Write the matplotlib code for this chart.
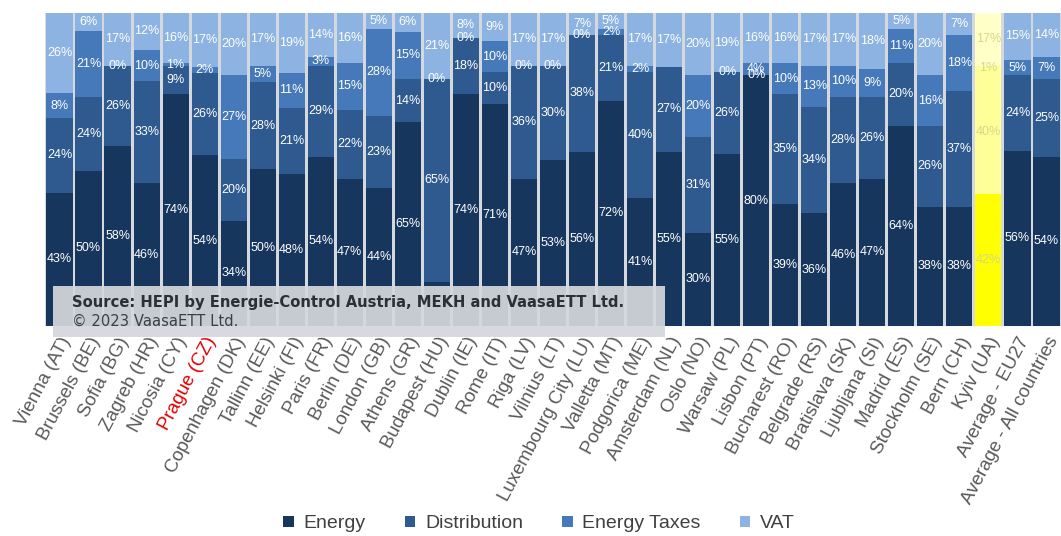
import numpy as np
import matplotlib.pyplot as plt
from matplotlib.patches import Patch

plt.rcParams['font.family'] = ['Liberation Sans', 'DejaVu Sans']

cities = ['Vienna (AT)', 'Brussels (BE)', 'Sofia (BG)', 'Zagreb (HR)', 'Nicosia (CY)',
          'Prague (CZ)', 'Copenhagen (DK)', 'Tallinn (EE)', 'Helsinki (FI)', 'Paris (FR)',
          'Berlin (DE)', 'London (GB)', 'Athens (GR)', 'Budapest (HU)', 'Dublin (IE)',
          'Rome (IT)', 'Riga (LV)', 'Vilnius (LT)', 'Luxembourg City (LU)', 'Valletta (MT)',
          'Podgorica (ME)', 'Amsterdam (NL)', 'Oslo (NO)', 'Warsaw (PL)', 'Lisbon (PT)',
          'Bucharest (RO)', 'Belgrade (RS)', 'Bratislava (SK)', 'Ljubljana (SI)', 'Madrid (ES)',
          'Stockholm (SE)', 'Bern (CH)', 'Kyiv (UA)', 'Average - EU27', 'Average - All countries']

# Budapest energy share is hidden behind the source box in the original
energy = [43, 50, 58, 46, 74, 54, 34, 50, 48, 54, 47, 44, 65, 14, 74, 71, 47, 53, 56, 72,
          41, 55, 30, 55, 80, 39, 36, 46, 47, 64, 38, 38, 42, 56, 54]
distribution = [24, 24, 26, 33, 9, 26, 20, 28, 21, 29, 22, 23, 14, 65, 18, 10, 36, 30, 38, 21,
                40, 27, 31, 26, 0, 35, 34, 28, 26, 20, 26, 37, 40, 24, 25]
# None = no segment / no label shown
energy_taxes = [8, 21, 0, 10, 1, 2, 27, 5, 11, 3, 15, 28, 15, 0, 0, 10, 0, 0, 0, 2,
                2, None, 20, 0, 4, 10, 13, 10, 9, 11, 16, 18, 1, 5, 7]
vat = [26, 6, 17, 12, 16, 17, 20, 17, 19, 14, 16, 5, 6, 21, 8, 9, 17, 17, 7, 5,
       17, 17, 20, 19, 16, 16, 17, 17, 18, 5, 20, 7, 17, 15, 14]

series = [('Energy', energy), ('Distribution', distribution),
          ('Energy Taxes', energy_taxes), ('VAT', vat)]
colors = ['#17365d', '#2e5a8f', '#4679ba', '#8db3e2']
kyiv_colors = ['#ffff00', '#ffff99', '#ffff99', '#ffffc8']

fig = plt.figure(figsize=(10.61, 5.36), dpi=100)
ax = fig.add_axes([0.0424, 0.392, 0.9576, 0.584])
ax.set_facecolor('#d5d9de')

x = np.arange(len(cities))
vals = np.array([[0 if v is None else v for v in s] for _, s in series], dtype=float)
totals = vals.sum(axis=0)
bottom = np.zeros(len(cities))
for k, (name, s) in enumerate(series):
    h = vals[k] / totals * 100
    cols = [kyiv_colors[k] if c.startswith('Kyiv') else colors[k] for c in cities]
    ax.bar(x, h, bottom=bottom, width=0.9, color=cols, edgecolor='none')
    for i in range(len(cities)):
        if s[i] is None:
            continue
        if bottom[i] + h[i] / 2 < 12:  # covered by the source box
            continue
        tc = '#d6d68a' if cities[i].startswith('Kyiv') else 'white'
        ax.text(x[i], bottom[i] + h[i] / 2, f'{s[i]}%', ha='center', va='center',
                fontsize=9, color=tc)
    bottom += h

ax.set_xlim(-0.5, len(cities) - 0.5)
ax.set_ylim(0, 100)
ax.set_yticks([])
ax.set_xticks(x)
ax.set_xticklabels(cities, rotation=62, ha='right', rotation_mode='anchor', fontsize=13.5,
                   color='#595959')
ax.tick_params(axis='x', length=0, pad=6)
for lbl in ax.get_xticklabels():
    if lbl.get_text().startswith('Prague'):
        lbl.set_color('#e00000')
for sp in ax.spines.values():
    sp.set_visible(False)

# source box
fig.patches.append(plt.Rectangle((53 / 1061, 1 - 337 / 536), 612 / 1061, 51 / 536,
                                 transform=fig.transFigure, facecolor='#d4d7dc',
                                 alpha=0.93, edgecolor='none', zorder=5))
fig.text(72 / 1061, 1 - 302 / 536, 'Source: HEPI by Energie-Control Austria, MEKH and VaasaETT Ltd.',
         fontsize=10.6, fontweight='bold', color='#2b2f36', family='DejaVu Sans',
         va='center', zorder=6)
fig.text(72 / 1061, 1 - 321 / 536, '\u00a9 2023 VaasaETT Ltd.', fontsize=10.6,
         color='#3a3e45', family='DejaVu Sans', va='center', zorder=6)

handles = [Patch(facecolor=c, edgecolor='none', label=n) for c, (n, _) in zip(colors, series)]
fig.legend(handles=handles, loc='center', bbox_to_anchor=(0.508, 1 - 524 / 536), ncol=4,
           frameon=False, fontsize=14, handlelength=0.55, handleheight=0.55,
           columnspacing=2.0, handletextpad=0.5, labelcolor='#404040')

fig.savefig('out.png', dpi=100)
